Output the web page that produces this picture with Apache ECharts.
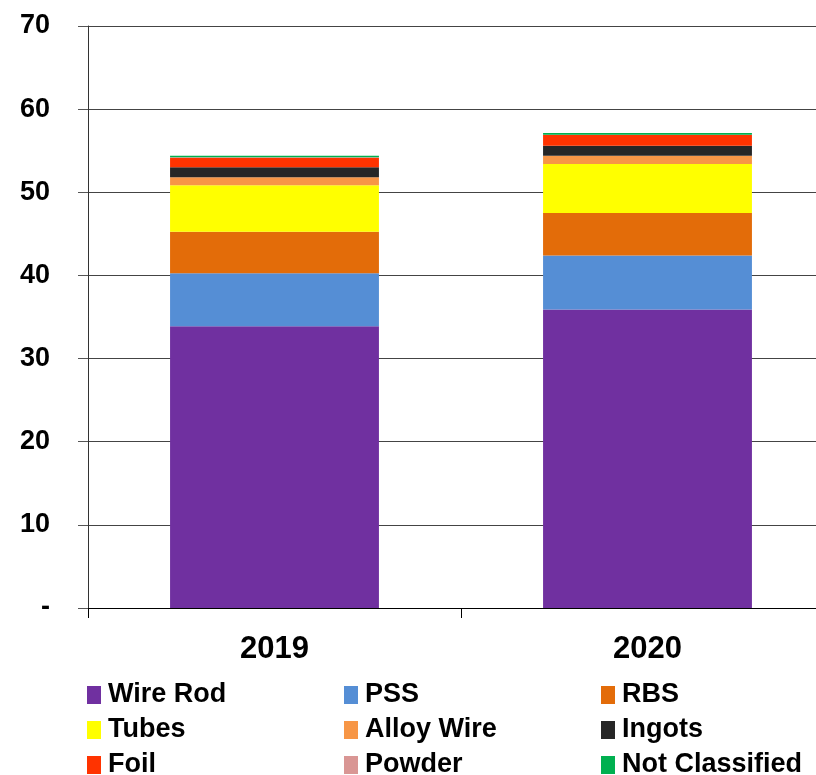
<!DOCTYPE html>
<html>
<head>
<meta charset="utf-8">
<script src="https://cdn.jsdelivr.net/npm/echarts@6/dist/echarts.min.js"></script>
<style>
html,body{margin:0;padding:0;background:#fff;overflow:hidden;width:816px;height:775px;}
#chart{width:834px;height:775px;}
</style>
</head>
<body>
<div id="chart"></div>
<script>
const categories = ['2019', '2020'];
const yTicks = [0, 10, 20, 30, 40, 50, 60, 70];
const seriesNames = ['Wire Rod', 'PSS', 'RBS', 'Tubes', 'Alloy Wire', 'Ingots', 'Foil', 'Powder', 'Not Classified'];
const wireRod = [33.9, 35.9];
const pss = [6.35, 6.5];
const rbs = [5.0, 5.1];
const tubes = [5.6, 5.9];
const alloyWire = [0.95, 1.0];
const ingots = [1.2, 1.2];
const foil = [1.15, 1.3];
const powder = [0.05, 0.03];
const notClassified = [0.2, 0.2];

const seriesData = [wireRod, pss, rbs, tubes, alloyWire, ingots, foil, powder, notClassified];
const colors = ['#7030A0', '#558ED5', '#E36C09', '#FFFF00', '#F79646', '#262626', '#FF3300', '#D99694', '#00B050'];
const FONT = '"Liberation Sans", Arial, Helvetica, sans-serif';

const chart = echarts.init(document.getElementById('chart'), null, {renderer: 'canvas'});

function legendCol(names, left) {
  return {
    data: names,
    orient: 'vertical',
    left: left,
    top: 680,
    height: 120,
    padding: 0,
    itemWidth: 14,
    itemHeight: 18,
    itemGap: 5,
    icon: 'rect',
    selectedMode: false,
    textStyle: {fontFamily: FONT, fontWeight: 'bold', fontSize: 27, color: '#000', lineHeight: 30, padding: [0, 0, 0, 2]}
  };
}

const option = {
  animation: false,
  color: colors,
  grid: {left: 88, right: 0, top: 26, bottom: 167, containLabel: false},
  legend: [
    legendCol(['Wire Rod', 'Tubes', 'Foil'], 87),
    legendCol(['PSS', 'Alloy Wire', 'Powder'], 344),
    legendCol(['RBS', 'Ingots', 'Not Classified'], 601)
  ],
  xAxis: {
    type: 'category',
    data: categories,
    axisLine: {lineStyle: {color: '#000', width: 1}},
    axisTick: {show: true, alignWithLabel: false, length: 10, lineStyle: {color: '#000'}},
    axisLabel: {fontFamily: FONT, fontWeight: 'bold', fontSize: 31, color: '#000', margin: 26},
    splitLine: {show: false}
  },
  yAxis: {
    type: 'value',
    min: 0,
    max: 70,
    interval: 10,
    axisLine: {show: true, lineStyle: {color: '#333', width: 1}},
    axisTick: {show: true, length: 10, lineStyle: {color: '#555'}},
    axisLabel: {
      fontFamily: FONT, fontWeight: 'bold', fontSize: 27, color: '#000', margin: 38,
      formatter: function (v) { return v === 0 ? '-' : String(v); }
    },
    splitLine: {show: true, lineStyle: {color: '#444', width: 1}}
  },
  series: seriesNames.map(function (name, i) {
    return {
      name: name,
      type: 'bar',
      stack: 'total',
      barWidth: '56%',
      data: seriesData[i],
      itemStyle: {color: colors[i]}
    };
  })
};
chart.setOption(option);
</script>
</body>
</html>
